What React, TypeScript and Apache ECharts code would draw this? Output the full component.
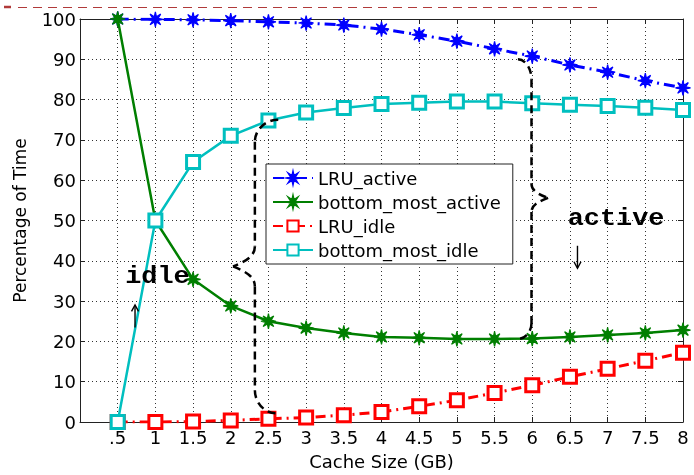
import React, { useEffect, useRef } from "react";
import * as echarts from "echarts";

const cacheSizes = [0.5, 1, 1.5, 2, 2.5, 3, 3.5, 4, 4.5, 5, 5.5, 6, 6.5, 7, 7.5, 8];
const lruActive = [100, 99.9, 99.8, 99.6, 99.3, 99.0, 98.5, 97.5, 96.1, 94.5, 92.6, 90.8, 88.6, 86.8, 84.7, 82.9];
const bottomMostActive = [100, 50, 35.4, 28.8, 25.0, 23.3, 22.1, 21.1, 20.9, 20.6, 20.6, 20.7, 21.1, 21.6, 22.1, 22.8];
const lruIdle = [0, 0, 0.1, 0.4, 0.8, 1.1, 1.7, 2.5, 3.9, 5.4, 7.2, 9.1, 11.2, 13.2, 15.2, 17.2];
const bottomMostIdle = [0, 50, 64.5, 71.0, 74.8, 76.8, 77.9, 78.9, 79.2, 79.5, 79.5, 79.1, 78.7, 78.4, 78.0, 77.4];
const seriesNames = ["LRU_active", "bottom_most_active", "LRU_idle", "bottom_most_idle"];
const xAxisTitle = "Cache Size (GB)";
const yAxisTitle = "Percentage of Time";

function asteriskPath(): string {
  const pts: string[] = [];
  for (let k = 0; k < 16; k++) {
    const a = (k * Math.PI) / 8 - Math.PI / 2;
    const r = k % 2 === 0 ? 10 : 3.8;
    pts.push(`${(10 + r * Math.cos(a)).toFixed(2)} ${(10 + r * Math.sin(a)).toFixed(2)}`);
  }
  return "path://M" + pts.join(" L") + " Z";
}

const pairs = (ys: number[]) => cacheSizes.map((x, i) => [x, ys[i]]);

export default function App() {
  const ref = useRef<HTMLDivElement>(null);
  useEffect(() => {
    const chart = echarts.init(ref.current!, null, { renderer: "svg" });
    const star = asteriskPath();
    const fontFamily = "DejaVu Sans";
    const axisCommon = {
      type: "value" as const,
      axisLine: { show: true, onZero: false, lineStyle: { color: "#222", width: 1 } },
      axisTick: { show: true, inside: true, length: 5, lineStyle: { color: "#222" } },
    };
    const option: any = {
      animation: false,
      textStyle: { fontFamily },
      grid: { left: 80, right: 11, top: 19, bottom: 44, containLabel: false },
      xAxis: [
        {
          ...axisCommon,
          position: "bottom",
          min: 0,
          max: 8,
          interval: 0.5,
          name: xAxisTitle,
          nameLocation: "middle",
          nameGap: 30,
          nameTextStyle: { fontSize: 18, color: "#000", fontFamily },
          axisLabel: {
            fontSize: 18,
            color: "#000",
            margin: 6,
            formatter: (v: number) => (v === 0 ? "" : v < 1 ? ".5" : String(v)),
          },
          splitLine: { show: true, lineStyle: { color: "#333", type: [1, 3], width: 1 } },
        },
        {
          ...axisCommon,
          position: "top",
          min: 0,
          max: 8,
          interval: 0.5,
          axisLabel: { show: false },
          splitLine: { show: false },
        },
      ],
      yAxis: [
        {
          ...axisCommon,
          position: "left",
          min: 0,
          max: 100,
          interval: 10,
          name: yAxisTitle,
          nameLocation: "middle",
          nameGap: 52,
          nameTextStyle: { fontSize: 17, color: "#000", fontFamily },
          axisLabel: { fontSize: 18, color: "#000", margin: 4 },
          splitLine: { show: true, lineStyle: { color: "#333", type: [1, 3], width: 1 } },
        },
        {
          ...axisCommon,
          position: "right",
          min: 0,
          max: 100,
          interval: 10,
          axisLabel: { show: false },
          splitLine: { show: false },
        },
      ],
      legend: {
        show: true,
        orient: "vertical",
        left: 266,
        top: 164,
        padding: [5, 12, 5, 6],
        itemWidth: 40,
        itemHeight: 14,
        itemGap: 6,
        selectedMode: false,
        backgroundColor: "#fff",
        borderColor: "#222",
        borderWidth: 1,
        borderRadius: 0,
        textStyle: { fontSize: 18, color: "#000", fontFamily, lineHeight: 18 },
        data: seriesNames,
      },
      series: [
        {
          name: seriesNames[0],
          type: "line",
          data: pairs(lruActive),
          symbol: star,
          symbolSize: 15,
          itemStyle: { color: "#0000ff", borderColor: "#0000ff", borderWidth: 1.2 },
          lineStyle: { color: "#0000ff", width: 3, type: [11, 5, 2, 5] },
          z: 3,
        },
        {
          name: seriesNames[1],
          type: "line",
          data: pairs(bottomMostActive),
          symbol: star,
          symbolSize: 15,
          itemStyle: { color: "#007f00", borderColor: "#007f00", borderWidth: 1.2 },
          lineStyle: { color: "#007f00", width: 2.5, type: "solid" },
          z: 4,
        },
        {
          name: seriesNames[2],
          type: "line",
          data: pairs(lruIdle),
          symbol: "rect",
          symbolSize: 13,
          itemStyle: { color: "#fff", borderColor: "#ff0000", borderWidth: 3 },
          lineStyle: { color: "#ff0000", width: 3, type: [10, 5, 2, 5] },
          z: 5,
        },
        {
          name: seriesNames[3],
          type: "line",
          data: pairs(bottomMostIdle),
          symbol: "rect",
          symbolSize: 13,
          itemStyle: { color: "#fff", borderColor: "#00bfbf", borderWidth: 3 },
          lineStyle: { color: "#00bfbf", width: 2.5, type: "solid" },
          z: 6,
        },
      ],
    };
    chart.setOption(option);

    const px = (x: number, y: number) => chart.convertToPixel({ seriesIndex: 0 }, [x, y]) as number[];
    const braceStyle = { stroke: "#000", lineWidth: 2.5, lineDash: [8, 5], fill: null };

    const brace = (
      xv: number, topEnd: number[], bottomEnd: number[], tip: number[],
      rTop: number, rBot: number, rTip: number
    ) => {
      const [xt, yt] = topEnd;
      const [xb, yb] = bottomEnd;
      const [xp, yp] = tip;
      const els: any[] = [];
      els.push({
        type: "bezierCurve", silent: true, z: 50,
        shape: { x1: xt, y1: yt, cpx1: xv + (xt - xv) * 0.45, cpy1: yt, cpx2: xv, cpy2: yt + rTop * 0.45, x2: xv, y2: yt + rTop },
        style: braceStyle,
      });
      els.push({ type: "line", silent: true, z: 50, shape: { x1: xv, y1: yt + rTop, x2: xv, y2: yp - rTip }, style: braceStyle });
      els.push({
        type: "bezierCurve", silent: true, z: 50,
        shape: { x1: xv, y1: yp - rTip, cpx1: xv, cpy1: yp - rTip * 0.45, cpx2: xp + (xv - xp) * 0.45, cpy2: yp - rTip * 0.2, x2: xp, y2: yp },
        style: braceStyle,
      });
      els.push({
        type: "bezierCurve", silent: true, z: 50,
        shape: { x1: xp, y1: yp, cpx1: xp + (xv - xp) * 0.45, cpy1: yp + rTip * 0.2, cpx2: xv, cpy2: yp + rTip * 0.45, x2: xv, y2: yp + rTip },
        style: braceStyle,
      });
      els.push({ type: "line", silent: true, z: 50, shape: { x1: xv, y1: yp + rTip, x2: xv, y2: yb - rBot }, style: braceStyle });
      els.push({
        type: "bezierCurve", silent: true, z: 50,
        shape: { x1: xv, y1: yb - rBot, cpx1: xv, cpy1: yb - rBot * 0.45, cpx2: xv + (xb - xv) * 0.45, cpy2: yb, x2: xb, y2: yb },
        style: braceStyle,
      });
      return els;
    };

    const leftXv = px(2.32, 0)[0];
    const leftBrace = brace(leftXv, px(2.63, 75.0), px(2.6, 2.2), px(2.03, 38.6), 22, 23, 20);
    const rightXv = px(5.99, 0)[0];
    const rightBrace = brace(rightXv, px(5.81, 90.0), px(5.81, 20.6), px(6.21, 55.6), 20, 16, 14);

    const idlePos = px(0.6, 36.1);
    const activePos = px(6.47, 50.5);
    const upArrow = px(0.73, 26.2);
    const downArrow = px(6.6, 41.0);
    const arrowStyle = { stroke: "#000", lineWidth: 1.4, fill: null };

    const textFont = "bold 24px 'Liberation Mono'";
    const graphics: any[] = [
      ...leftBrace,
      ...rightBrace,
      {
        type: "text", silent: true, z: 60, x: idlePos[0], y: idlePos[1], scaleX: 1.12,
        style: { text: "idle", font: textFont, fill: "#000", textAlign: "left", textVerticalAlign: "middle" },
      },
      {
        type: "text", silent: true, z: 60, x: activePos[0], y: activePos[1], scaleX: 1.12,
        style: { text: "active", font: textFont, fill: "#000", textAlign: "left", textVerticalAlign: "middle" },
      },
      { type: "line", silent: true, z: 60, shape: { x1: upArrow[0], y1: upArrow[1] + 11, x2: upArrow[0], y2: upArrow[1] - 11 }, style: arrowStyle },
      { type: "polyline", silent: true, z: 60, shape: { points: [[upArrow[0] - 3.5, upArrow[1] - 5], [upArrow[0], upArrow[1] - 11.5], [upArrow[0] + 3.5, upArrow[1] - 5]] }, style: arrowStyle },
      { type: "line", silent: true, z: 60, shape: { x1: downArrow[0], y1: downArrow[1] - 11, x2: downArrow[0], y2: downArrow[1] + 11 }, style: arrowStyle },
      { type: "polyline", silent: true, z: 60, shape: { points: [[downArrow[0] - 3.5, downArrow[1] + 5], [downArrow[0], downArrow[1] + 11.5], [downArrow[0] + 3.5, downArrow[1] + 5]] }, style: arrowStyle },
      { type: "line", silent: true, z: 60, shape: { x1: 4, y1: 7, x2: 11, y2: 7 }, style: { stroke: "#b03a3a", lineWidth: 2.5 } },
      { type: "line", silent: true, z: 60, shape: { x1: 18, y1: 7.5, x2: 598, y2: 7.5 }, style: { stroke: "#b03a3a", lineWidth: 1, lineDash: [9, 6] } },
    ];
    chart.setOption({ graphic: graphics });

    return () => chart.dispose();
  }, []);
  return <div ref={ref} style={{ position: "fixed", left: 0, top: 0, width: 694, height: 475 }} />;
}
